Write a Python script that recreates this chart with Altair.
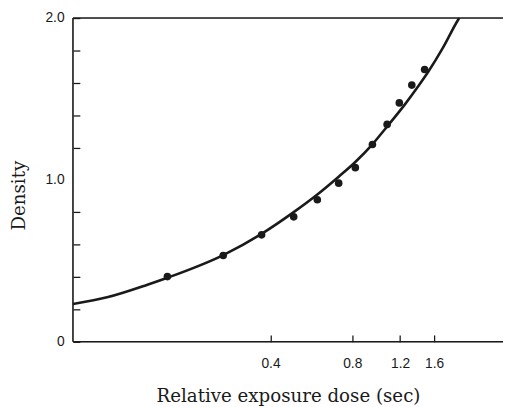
import altair as alt
import pandas as pd

# measured points (dose in sec, density)
dose_pts = [0.167, 0.268, 0.371, 0.487, 0.595, 0.713, 0.821, 0.949, 1.075, 1.192, 1.325, 1.477]
density_pts = [0.403, 0.533, 0.661, 0.772, 0.878, 0.980, 1.076, 1.219, 1.343, 1.476, 1.586, 1.682]

# fitted curve
curve_dose = [0.075, 0.101, 0.141, 0.167, 0.268, 0.371, 0.487, 0.595, 0.713, 0.821,
              0.949, 1.075, 1.254, 1.401, 1.523, 1.726, 1.955, 1.980]
curve_density = [0.234, 0.277, 0.353, 0.396, 0.536, 0.667, 0.801, 0.910, 1.020, 1.111,
                 1.220, 1.330, 1.470, 1.580, 1.668, 1.817, 1.985, 2.0]

x_ticks = [0.4, 0.8, 1.2, 1.6]
y_ticks = [0, 0.2, 0.4, 0.6, 0.8, 1.0, 1.2, 1.4, 1.6, 1.8, 2.0]
x_domain = [0.075, 2.87]
y_domain = [0, 2.0]

pts = pd.DataFrame({"dose": dose_pts, "density": density_pts})
curve = pd.DataFrame({"dose": curve_dose, "density": curve_density})

INK = "#1a1a1a"

xscale = alt.Scale(type="log", domain=x_domain, nice=False)
yscale = alt.Scale(domain=y_domain, nice=False, zero=False)

xaxis = alt.Axis(
    values=x_ticks, tickCount=20, labelExpr="format(datum.value, '.1f')",
    offset=-7, domain=False, grid=False, tickSize=7, tickWidth=1.3, tickColor=INK,
    labelPadding=15, labelFont="Liberation Sans", labelFontSize=14, labelColor=INK,
    labelOverlap=False,
    title="Relative exposure dose (sec)", titleFont="DejaVu Serif", titleFontSize=18.5,
    titleFontWeight="normal", titleColor=INK, titlePadding=17,
)
yaxis = alt.Axis(
    values=y_ticks, tickCount=20,
    labelExpr="datum.value == 0 ? '0' : (datum.value == 1 ? '1.0' : (datum.value == 2 ? '2.0' : ''))",
    offset=-7, domain=False, grid=False, tickSize=7, tickWidth=1.3, tickColor=INK,
    tickOpacity={"condition": {"test": "datum.value == 1", "value": 0}, "value": 1},
    labelPadding=9, labelFont="Liberation Sans", labelFontSize=14, labelColor=INK,
    labelOverlap=False,
    title="Density", titleFont="DejaVu Serif", titleFontSize=18.5,
    titleFontWeight="normal", titleColor=INK, titlePadding=17, titleY=180,
)

line = alt.Chart(curve).mark_line(color=INK, strokeWidth=2.6, interpolate="monotone").encode(
    x=alt.X("dose:Q", scale=xscale, axis=xaxis),
    y=alt.Y("density:Q", scale=yscale, axis=yaxis),
)
dots = alt.Chart(pts).mark_circle(color=INK, opacity=1, size=60).encode(
    x=alt.X("dose:Q", scale=xscale, axis=xaxis),
    y=alt.Y("density:Q", scale=yscale, axis=yaxis),
)

frame_src = pd.DataFrame({"k": [0]})
top_rule = alt.Chart(frame_src).mark_rule(color=INK, strokeWidth=1.4).encode(y=alt.datum(y_domain[1]))
bottom_rule = alt.Chart(frame_src).mark_rule(color=INK, strokeWidth=1.6).encode(y=alt.datum(y_domain[0]))
left_rule = alt.Chart(frame_src).mark_rule(color=INK, strokeWidth=1.6).encode(x=alt.datum(x_domain[0]))

chart = alt.layer(top_rule, bottom_rule, left_rule, line, dots).properties(
    width=437, height=329,
    autosize=alt.AutoSizeParams(type="none"),
    padding={"left": 66, "top": 7, "right": 0, "bottom": 62},
).configure_view(stroke=None).configure(background="white")

chart.save("out.html", embed_options={"renderer": "svg", "actions": False})
